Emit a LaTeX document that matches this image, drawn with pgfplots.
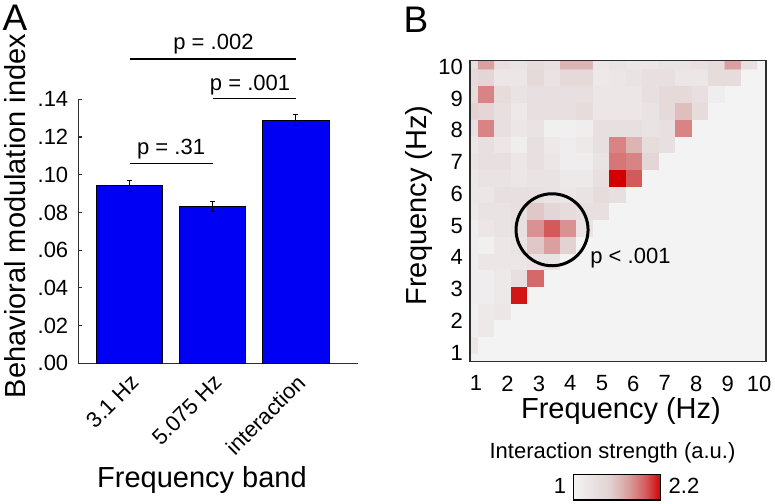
\documentclass[border=0pt]{standalone}
\usepackage{fontspec}
\setmainfont{Liberation Sans}
\usepackage{pgfplots}
\pgfplotsset{compat=1.18}
\usetikzlibrary{calc}
\definecolor{barblue}{RGB}{0,0,245}
\definecolor{axgray}{RGB}{45,45,45}
\newcommand{\tfont}{\fontsize{11}{13}\selectfont}
\begin{document}
\begin{tikzpicture}
\path[use as bounding box] (0,0) rectangle (387.5pt,251.5pt);
% ---------------- Panel A ----------------
\begin{axis}[
  at={(39.15pt,69.85pt)}, anchor=south west,
  scale only axis, width=139.85pt, height=132pt,
  xmin=0.3835, xmax=3.749, ymin=0, ymax=0.14,
  axis x line*=bottom, axis y line*=left,
  axis line style={axgray, line width=0.6pt},
  xtick={1,2,3}, xticklabels={3.1 Hz,5.075 Hz,interaction},
  xtick style={draw=none},
  ytick={0,0.02,0.04,0.06,0.08,0.10,0.12,0.14},
  yticklabels={.00,.02,.04,.06,.08,.10,.12,.14},
  ytick align=inside, major tick length=2pt,
  ytick style={axgray, line width=0.6pt},
  tick label style={font=\tfont},
  xticklabel style={rotate=45, anchor=north east},
  yticklabel style={xshift=-1.5pt},
  /pgf/number format/assume math mode=true,
  xlabel={Frequency band}, ylabel={Behavioral modulation index},
  label style={font=\fontsize{14.5}{17}\selectfont},
  ylabel style={at={(axis description cs:-0.226,0.558)}, anchor=center},
  xlabel style={at={(axis description cs:0.442,-0.442)}, anchor=center},
  clip=false,
]
\addplot[ybar, bar width=0.8, fill=barblue, draw=black, line width=0.5pt,
  error bars/.cd, y dir=both, y explicit,
  error bar style={black, line width=0.6pt},
  error mark options={rotate=90, mark size=1.2pt, black, line width=0.6pt}]
  coordinates {(1,0.0942) +- (0,0.0029) (2,0.0830) +- (0,0.0027) (3,0.1290) +- (0,0.0031)};
\draw[black, line width=0.6pt] (axis cs:1,0.1061) -- (axis cs:2,0.1061);
\draw[black, line width=0.6pt] (axis cs:2,0.1406) -- (axis cs:3,0.1406);
\draw[black, line width=0.6pt] (axis cs:1,0.1614) -- (axis cs:3,0.1614);
\node[font=\tfont] at (axis cs:1.5,0.1137) {p = .31};
\node[font=\tfont] at (axis cs:2.45,0.1473) {p = .001};
\node[font=\tfont] at (axis cs:2.01,0.1694) {p = .002};
\end{axis}
% ---------------- Panel B ----------------
\begin{axis}[
  at={(235pt,70.65pt)}, anchor=south west,
  scale only axis, width=148pt, height=150.5pt,
  xmin=0, xmax=18, ymin=0, ymax=18,
  axis on top,
  axis line style={axgray, line width=0.6pt},
  xtick={0.365,2.28,4.19,6.10,8.02,9.93,11.84,13.76,15.67,17.58},
  xticklabels={1,2,3,4,5,6,7,8,9,10},
  ytick={0.54,2.44,4.34,6.24,8.14,10.04,11.94,13.84,15.74,17.64},
  yticklabels={1,2,3,4,5,6,7,8,9,10},
  tick style={draw=none},
  tick label style={font=\tfont},
  xticklabel style={yshift=-3.5pt},
  /pgf/number format/assume math mode=true,
  xlabel={Frequency (Hz)}, ylabel={Frequency (Hz)},
  label style={font=\fontsize{14.5}{17}\selectfont},
  ylabel style={at={(axis description cs:-0.172,0.519)}, anchor=center},
  xlabel style={at={(axis description cs:0.51,-0.163)}, anchor=center},
  colormap={redgray}{rgb255(0cm)=(243,243,243); rgb255(2.5cm)=(232,224,224); rgb255(4.17cm)=(226,210,210); rgb255(6.25cm)=(218,160,160); rgb255(8.33cm)=(212,90,90); rgb255(10cm)=(210,0,0)},
  point meta min=1, point meta max=2.2,
  colorbar horizontal,
  colorbar style={
    at={($(parent axis.south west)+(51.65pt,-47.75pt)$)}, anchor=north west,
    scale only axis, width=43.7pt, height=12.85pt,
    xtick=\empty, ytick=\empty,
    axis line style={black, line width=0.6pt},
  },
]
\addplot[matrix plot*, mesh/cols=19, point meta=explicit] coordinates {
(0,0)[1] (1,0)[1] (2,0)[1] (3,0)[1] (4,0)[1] (5,0)[1] (6,0)[1] (7,0)[1] (8,0)[1] (9,0)[1] (10,0)[1] (11,0)[1] (12,0)[1] (13,0)[1] (14,0)[1] (15,0)[1] (16,0)[1] (17,0)[1] (18,0)[1]
(0,1)[1.2] (1,1)[1] (2,1)[1] (3,1)[1] (4,1)[1] (5,1)[1] (6,1)[1] (7,1)[1] (8,1)[1] (9,1)[1] (10,1)[1] (11,1)[1] (12,1)[1] (13,1)[1] (14,1)[1] (15,1)[1] (16,1)[1] (17,1)[1] (18,1)[1]
(0,2)[1.1] (1,2)[1.15] (2,2)[1] (3,2)[1] (4,2)[1] (5,2)[1] (6,2)[1] (7,2)[1] (8,2)[1] (9,2)[1] (10,2)[1] (11,2)[1] (12,2)[1] (13,2)[1] (14,2)[1] (15,2)[1] (16,2)[1] (17,2)[1] (18,2)[1]
(0,3)[1.05] (1,3)[1.15] (2,3)[1.2] (3,3)[1] (4,3)[1] (5,3)[1] (6,3)[1] (7,3)[1] (8,3)[1] (9,3)[1] (10,3)[1] (11,3)[1] (12,3)[1] (13,3)[1] (14,3)[1] (15,3)[1] (16,3)[1] (17,3)[1] (18,3)[1]
(0,4)[1.1] (1,4)[1.1] (2,4)[1.15] (3,4)[2.15] (4,4)[1] (5,4)[1] (6,4)[1] (7,4)[1] (8,4)[1] (9,4)[1] (10,4)[1] (11,4)[1] (12,4)[1] (13,4)[1] (14,4)[1] (15,4)[1] (16,4)[1] (17,4)[1] (18,4)[1]
(0,5)[1.1] (1,5)[1.1] (2,5)[1.15] (3,5)[1.3] (4,5)[1.95] (5,5)[1] (6,5)[1] (7,5)[1] (8,5)[1] (9,5)[1] (10,5)[1] (11,5)[1] (12,5)[1] (13,5)[1] (14,5)[1] (15,5)[1] (16,5)[1] (17,5)[1] (18,5)[1]
(0,6)[1.1] (1,6)[1.2] (2,6)[1.2] (3,6)[1.2] (4,6)[1.25] (5,6)[1.25] (6,6)[1] (7,6)[1] (8,6)[1] (9,6)[1] (10,6)[1] (11,6)[1] (12,6)[1] (13,6)[1] (14,6)[1] (15,6)[1] (16,6)[1] (17,6)[1] (18,6)[1]
(0,7)[1.1] (1,7)[1.05] (2,7)[1.2] (3,7)[1.25] (4,7)[1.55] (5,7)[1.75] (6,7)[1.5] (7,7)[1] (8,7)[1] (9,7)[1] (10,7)[1] (11,7)[1] (12,7)[1] (13,7)[1] (14,7)[1] (15,7)[1] (16,7)[1] (17,7)[1] (18,7)[1]
(0,8)[1.1] (1,8)[1.2] (2,8)[1.25] (3,8)[1.3] (4,8)[1.8] (5,8)[2.0] (6,8)[1.8] (7,8)[1.25] (8,8)[1] (9,8)[1] (10,8)[1] (11,8)[1] (12,8)[1] (13,8)[1] (14,8)[1] (15,8)[1] (16,8)[1] (17,8)[1] (18,8)[1]
(0,9)[1.15] (1,9)[1.25] (2,9)[1.25] (3,9)[1.3] (4,9)[1.55] (5,9)[1.45] (6,9)[1.35] (7,9)[1.3] (8,9)[1.3] (9,9)[1] (10,9)[1] (11,9)[1] (12,9)[1] (13,9)[1] (14,9)[1] (15,9)[1] (16,9)[1] (17,9)[1] (18,9)[1]
(0,10)[1.2] (1,10)[1.2] (2,10)[1.3] (3,10)[1.3] (4,10)[1.3] (5,10)[1.25] (6,10)[1.2] (7,10)[1.25] (8,10)[1.35] (9,10)[1.3] (10,10)[1] (11,10)[1] (12,10)[1] (13,10)[1] (14,10)[1] (15,10)[1] (16,10)[1] (17,10)[1] (18,10)[1]
(0,11)[1.2] (1,11)[1.25] (2,11)[1.25] (3,11)[1.2] (4,11)[1.25] (5,11)[1.25] (6,11)[1.15] (7,11)[1.15] (8,11)[1.3] (9,11)[2.2] (10,11)[2.0] (11,11)[1] (12,11)[1] (13,11)[1] (14,11)[1] (15,11)[1] (16,11)[1] (17,11)[1] (18,11)[1]
(0,12)[1.25] (1,12)[1.3] (2,12)[1.3] (3,12)[1.2] (4,12)[1.3] (5,12)[1.2] (6,12)[1.1] (7,12)[1.1] (8,12)[1.25] (9,12)[1.9] (10,12)[1.85] (11,12)[1.45] (12,12)[1] (13,12)[1] (14,12)[1] (15,12)[1] (16,12)[1] (17,12)[1] (18,12)[1]
(0,13)[1.2] (1,13)[1.3] (2,13)[1.2] (3,13)[1.1] (4,13)[1.3] (5,13)[1.15] (6,13)[1.1] (7,13)[1.15] (8,13)[1.3] (9,13)[1.85] (10,13)[1.65] (11,13)[1.35] (12,13)[1.3] (13,13)[1] (14,13)[1] (15,13)[1] (16,13)[1] (17,13)[1] (18,13)[1]
(0,14)[1.3] (1,14)[1.85] (2,14)[1.3] (3,14)[1.2] (4,14)[1.25] (5,14)[1.05] (6,14)[1.05] (7,14)[1.1] (8,14)[1.3] (9,14)[1.3] (10,14)[1.3] (11,14)[1.25] (12,14)[1.3] (13,14)[1.85] (14,14)[1] (15,14)[1] (16,14)[1] (17,14)[1] (18,14)[1]
(0,15)[1.5] (1,15)[1.45] (2,15)[1.3] (3,15)[1.15] (4,15)[1.3] (5,15)[1.3] (6,15)[1.3] (7,15)[1.35] (8,15)[1.2] (9,15)[1.2] (10,15)[1.2] (11,15)[1.25] (12,15)[1.4] (13,15)[1.6] (14,15)[1.35] (15,15)[1] (16,15)[1] (17,15)[1] (18,15)[1]
(0,16)[1.35] (1,16)[1.85] (2,16)[1.35] (3,16)[1.25] (4,16)[1.3] (5,16)[1.3] (6,16)[1.3] (7,16)[1.3] (8,16)[1.2] (9,16)[1.2] (10,16)[1.2] (11,16)[1.3] (12,16)[1.4] (13,16)[1.4] (14,16)[1.3] (15,16)[1.1] (16,16)[1] (17,16)[1] (18,16)[1]
(0,17)[1.4] (1,17)[1.45] (2,17)[1.2] (3,17)[1.2] (4,17)[1.4] (5,17)[1.25] (6,17)[1.4] (7,17)[1.4] (8,17)[1.15] (9,17)[1.2] (10,17)[1.25] (11,17)[1.3] (12,17)[1.3] (13,17)[1.2] (14,17)[1.2] (15,17)[1.35] (16,17)[1.35] (17,17)[1] (18,17)[1]
(0,18)[1.3] (1,18)[1.75] (2,18)[1.3] (3,18)[1.25] (4,18)[1.35] (5,18)[1.3] (6,18)[1.65] (7,18)[1.65] (8,18)[1.2] (9,18)[1.25] (10,18)[1.2] (11,18)[1.2] (12,18)[1.25] (13,18)[1.25] (14,18)[1.3] (15,18)[1.35] (16,18)[1.75] (17,18)[1.3] (18,18)[1]
};
\draw[black, line width=1.5pt] (axis cs:4.99,7.89) circle[radius=18pt];
\end{axis}
% ---------------- free text ----------------
\node[font=\fontsize{18.5}{22}\selectfont] at (7.5pt,242.5pt) {A};
\node[font=\fontsize{18.5}{22}\selectfont] at (208pt,241.5pt) {B};
\node[font=\tfont, anchor=west, inner sep=0pt] at (295pt,122.5pt) {p < .001};
\node[font=\tfont] at (306.25pt,24.85pt) {Interaction strength (a.u.)};
\node[font=\tfont] at (280pt,8.7pt) {1};
\node[font=\tfont] at (342pt,8.7pt) {2.2};
\end{tikzpicture}
\end{document}
